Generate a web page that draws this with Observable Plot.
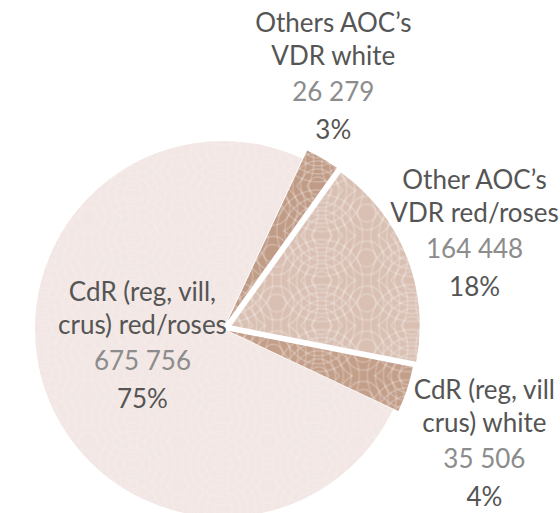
<!DOCTYPE html>
<html><head><meta charset="utf-8">
<script src="https://cdn.jsdelivr.net/npm/d3@7"></script>
<script src="https://cdn.jsdelivr.net/npm/@observablehq/plot@0.6"></script>
<style>
html,body{margin:0;padding:0;background:#fff;}
#chart svg{display:block;}
</style></head><body><div id="chart"></div>
<script>
// ---- data ----
const categories = ["Others AOC’s VDR white", "Other AOC’s VDR red/roses", "CdR (reg, vill crus) white", "CdR (reg, vill, crus) red/roses"];
const nameLines = ["Others AOC’s\nVDR white", "Other AOC’s\nVDR red/roses", "CdR (reg, vill\ncrus) white", "CdR (reg, vill,\ncrus) red/roses"];
const volumes = [26279, 164448, 35506, 675756];
const volumeLabels = ["26 279", "164 448", "35 506", "675 756"];
const percentLabels = ["3%", "18%", "4%", "75%"];

// ---- style / layout ----
const colors = ["#c09b86", "#d9c0b3", "#c39e89", "#f2e7e4"];
const explode = [0.05, 0.05, 0.03, 0];           // in radius units
const labelAngleDeg = [25.7, 74.2, 117.9, 243.2]; // label anchor direction
const labelRadius = [1.347, 1.388, 1.570, 0.483]; // label anchor distance
const startDeg = 25;

const W = 560, H = 513, cx = 223, cy = 329, Rpx = 188;

const pie = d3.pie().sort(null).value(d => d).startAngle(startDeg * Math.PI / 180).endAngle(startDeg * Math.PI / 180 + 2 * Math.PI);
const arcs = pie(volumes);

const rows = categories.map((c, i) => {
  const t = labelAngleDeg[i] * Math.PI / 180;
  return {
    category: c,
    name: nameLines[i],
    vol: volumeLabels[i],
    pct: percentLabels[i],
    lx: labelRadius[i] * Math.sin(t),
    ly: labelRadius[i] * Math.cos(t)
  };
});

function slices(index, scales) {
  const g = d3.create("svg:g");
  const defs = g.append("defs");
  const pat = defs.append("pattern").attr("id", "wave").attr("patternUnits", "userSpaceOnUse")
    .attr("width", 90).attr("height", 45);
  const centers = [[0, 45], [90, 45], [45, 22.5], [0, 0], [90, 0]];
  for (const [ox, oy] of centers) {
    for (const r of [9, 17, 25, 33, 41]) {
      pat.append("circle").attr("cx", ox).attr("cy", oy).attr("r", r)
        .attr("fill", "none").attr("stroke", "#ffffff").attr("stroke-width", 1.3).attr("stroke-opacity", 0.28);
    }
  }
  const rpx = scales.x(1) - scales.x(0);
  const arc = d3.arc().innerRadius(0).outerRadius(rpx);
  arcs.forEach((a, i) => {
    const mid = (a.startAngle + a.endAngle) / 2;
    const tx = scales.x(explode[i] * Math.sin(mid));
    const ty = scales.y(explode[i] * Math.cos(mid));
    const p = g.append("g").attr("transform", `translate(${tx},${ty})`);
    p.append("path").attr("d", arc(a)).attr("fill", colors[i]);
    p.append("path").attr("d", arc(a)).attr("fill", "url(#wave)").attr("opacity", i === 3 ? 0.35 : 1);
  });
  return g.node();
}

const font = "Lato, 'Open Sans', sans-serif";
const fs = 26;

const chart = Plot.plot({
  width: W,
  height: H,
  margin: 0,
  x: {domain: [-cx / Rpx, (W - cx) / Rpx], range: [0, W], axis: null},
  y: {domain: [-(H - cy) / Rpx, cy / Rpx], range: [H, 0], axis: null},
  style: {background: "#fff", fontFamily: font},
  marks: [
    slices,
    Plot.text(rows, {x: "lx", y: "ly", text: "name", lineAnchor: "bottom", dy: -36, lineHeight: 33 / fs, fontSize: fs, fill: "#555555", fontFamily: font}),
    Plot.text(rows, {x: "lx", y: "ly", text: "vol", lineAnchor: "bottom", fontSize: fs, fill: "#8c8c8c", fontFamily: font}),
    Plot.text(rows, {x: "lx", y: "ly", text: "pct", lineAnchor: "bottom", dy: 38, fontSize: fs, fill: "#555555", fontFamily: font})
  ]
});
document.getElementById("chart").appendChild(chart);
</script>
</body></html>
